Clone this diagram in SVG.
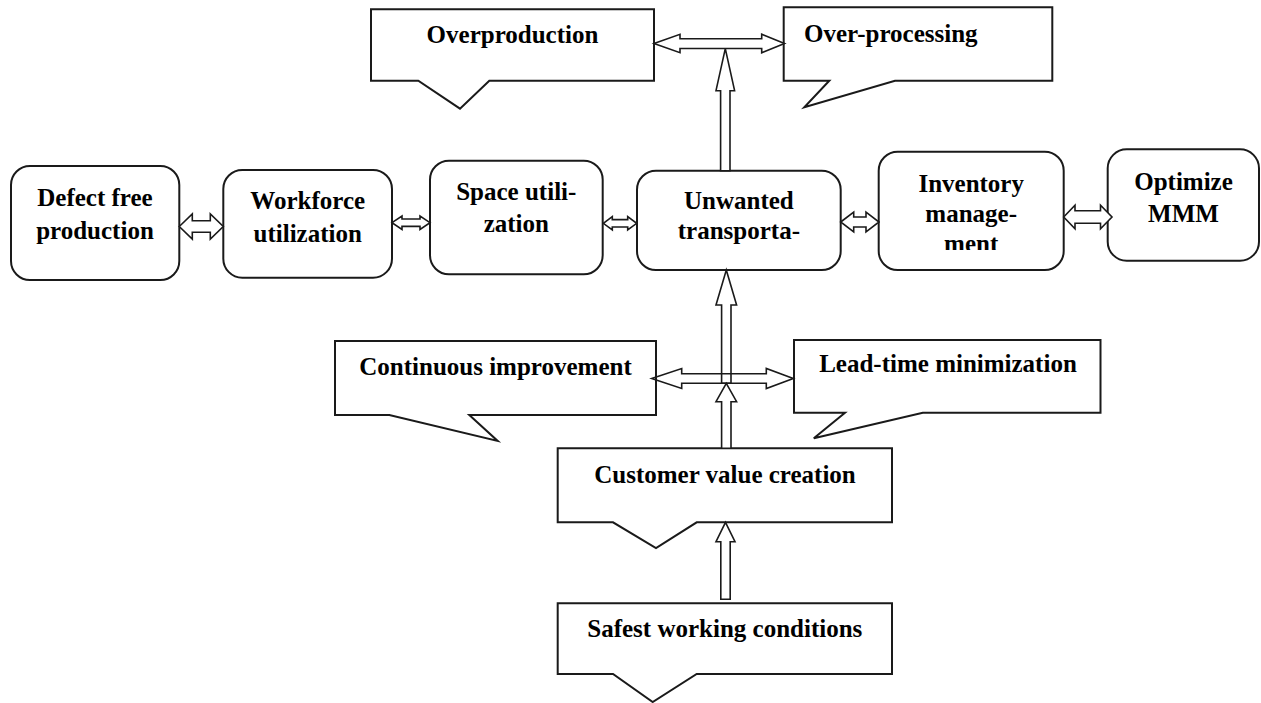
<svg xmlns="http://www.w3.org/2000/svg" width="1261" height="703" viewBox="0 0 1261 703">
<style>
.box{fill:#fff;stroke:#1a1a1a;stroke-width:2}
.call{fill:#fff;stroke:#1a1a1a;stroke-width:2;stroke-linejoin:miter}
.arr{fill:#fff;stroke:#1a1a1a;stroke-width:1.6;stroke-linejoin:miter}
.arrn{fill:none;stroke:#1a1a1a;stroke-width:1.6;stroke-linejoin:miter}
text{font-family:"Liberation Serif","Times New Roman",serif;font-weight:bold;font-size:25px;fill:#000}
.c{text-anchor:middle}
</style>
<defs>
<clipPath id="invclip"><rect x="870" y="140" width="200" height="110"/></clipPath>
</defs>
<rect width="1261" height="703" fill="#fff"/>

<g id="overproduction">
<path class="call" d="M371,9.3 H654 V80.7 H489.3 L460,108.7 L418.3,80.7 H371 Z"/>
<text class="c" x="512.5" y="43.3">Overproduction</text>
</g>
<g id="overprocessing">
<path class="call" d="M783.7,7.3 H1052.3 V80.7 H895 L804.3,107.3 L829.3,80.7 H783.7 Z"/>
<text x="804" y="42">Over-processing</text>
</g>
<g id="continuous">
<path class="call" d="M335,341 H656 V415 H469.3 L497.7,441 L389.3,415 H335 Z"/>
<text class="c" x="495.5" y="375">Continuous improvement</text>
</g>
<g id="leadtime">
<path class="call" d="M794,340 H1100.5 V412.7 H922.8 L813.8,438.3 L845,412.7 H794 Z"/>
<text class="c" x="948" y="372">Lead-time minimization</text>
</g>
<g id="customer">
<path class="call" d="M557.7,448.3 H892 V522.3 H696.7 L656,548 L613,522.3 H557.7 Z"/>
<text class="c" x="725" y="482.5">Customer value creation</text>
</g>
<g id="safest">
<path class="call" d="M557.7,603.3 H892 V674 H696.7 L652.7,702 L613,674 H557.7 Z"/>
<text class="c" x="724.8" y="636.7">Safest working conditions</text>
</g>

<g id="defect">
<rect class="box" x="11" y="166" width="168.3" height="114" rx="19"/>
<text class="c" x="95" y="206">Defect free</text>
<text class="c" x="95" y="239">production</text>
</g>
<g id="workforce">
<rect class="box" x="223.3" y="170" width="168.7" height="107.7" rx="19"/>
<text class="c" x="307.7" y="209.3">Workforce</text>
<text class="c" x="307.7" y="241.7">utilization</text>
</g>
<g id="space">
<rect class="box" x="430" y="160.7" width="172.7" height="113.6" rx="19"/>
<text class="c" x="516.3" y="200">Space utili-</text>
<text class="c" x="516.3" y="232">zation</text>
</g>
<g id="unwanted">
<rect class="box" x="637" y="170.7" width="203.7" height="99.3" rx="19"/>
<text class="c" x="738.9" y="209">Unwanted</text>
<text class="c" x="738.9" y="239">transporta-</text>
</g>
<g id="inventory">
<rect class="box" x="878.7" y="151.7" width="185" height="118.3" rx="19"/>
<text class="c" x="971.2" y="191.7">Inventory</text>
<text class="c" x="971.2" y="221.5">manage-</text>
<text class="c" x="971.2" y="251.5" clip-path="url(#invclip)">ment</text>
</g>
<g id="optimize">
<rect class="box" x="1107.7" y="149.3" width="151.3" height="111.4" rx="19"/>
<text class="c" x="1183.5" y="190">Optimize</text>
<text class="c" x="1183.5" y="221.7">MMM</text>
</g>

<g id="connectors">
<!-- top double arrow -->
<polygon class="arr" points="654,43.5 680,34.3 680,38.8 761.7,38.8 761.7,34.3 784.5,43.5 761.7,52.7 761.7,48.5 680,48.5 680,52.7"/>
<!-- vertical up to top arrow -->
<polygon class="arr" points="725.3,48.7 734.6,90.7 730,90.7 730,170.7 720.6,170.7 720.6,90.7 716,90.7"/>
<!-- row arrows -->
<polygon class="arr" points="179.3,226.5 192.3,213.9 192.3,220.8 210.3,220.8 210.3,213.9 223.3,226.5 210.3,239.1 210.3,232.2 192.3,232.2 192.3,239.1"/>
<polygon class="arr" points="392,222.7 402,216 402,219 420,219 420,216 430,222.7 420,229.4 420,226.4 402,226.4 402,229.4"/>
<polygon class="arr" points="603.3,223.3 612.3,216.6 612.3,219.6 627.7,219.6 627.7,216.6 636.7,223.3 627.7,230 627.7,227 612.3,227 612.3,230"/>
<polygon class="arr" points="840.7,222 853.7,212 853.7,217 866,217 866,212 879,222 866,232 866,227 853.7,227 853.7,232"/>
<polygon class="arr" points="1063.7,217 1075,205.3 1075,210.7 1100.5,210.7 1100.5,205.3 1112,217 1100.5,228.7 1100.5,223.3 1075,223.3 1075,228.7"/>
<!-- middle horizontal double arrow -->
<polygon class="arrn" points="651.7,378.5 681.7,368.5 681.7,373.8 766.3,373.8 766.3,368.5 793.3,378.5 766.3,388.5 766.3,383.2 681.7,383.2 681.7,388.5"/>
<!-- vertical up into Unwanted -->
<polygon class="arrn" points="726.3,270 736.6,305 731,305 731,383.2 721.6,383.2 721.6,305 716,305"/>
<!-- vertical from Customer -->
<polygon class="arr" points="726.3,383.3 736.6,401.7 731,401.7 731,448.3 721.6,448.3 721.6,401.7 716,401.7"/>
<!-- Safest to Customer -->
<polygon class="arr" points="725.5,522.3 735,541.7 730.2,541.7 730.2,599.3 720.8,599.3 720.8,541.7 716,541.7"/>
</g>
</svg>
